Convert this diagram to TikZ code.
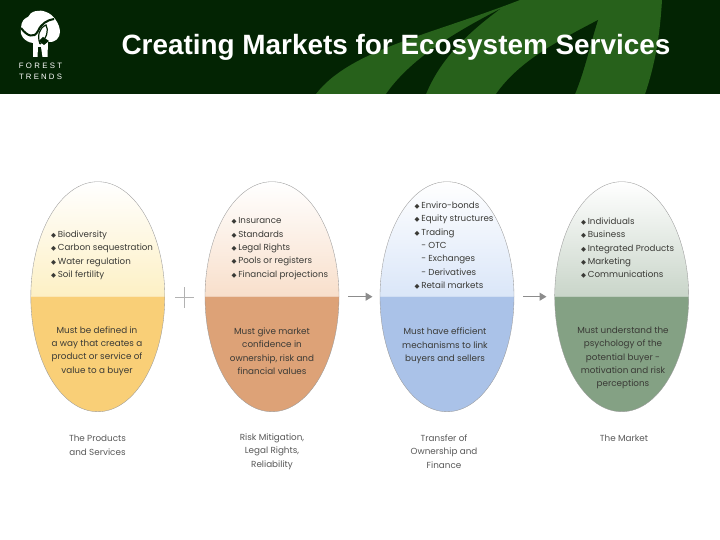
\documentclass[tikz,border=0pt]{standalone}
\usepackage{fontspec}
\setmainfont{Poppins}
\newfontfamily\titlefont{Liberation Sans}
\newfontfamily\symfont{DejaVu Sans}
\usetikzlibrary{shapes.geometric,arrows.meta}
\definecolor{bandbg}{HTML}{032403}
\definecolor{leafgreen}{HTML}{27611B}
\definecolor{inktext}{HTML}{3A3A36}
\definecolor{eaT}{HTML}{FDF0C4}\definecolor{eaB}{HTML}{F9CF77}
\definecolor{ebT}{HTML}{F8DFCB}\definecolor{ebB}{HTML}{DDA277}
\definecolor{ecT}{HTML}{DAE6F8}\definecolor{ecB}{HTML}{AAC2E8}
\definecolor{edT}{HTML}{C9D5C9}\definecolor{edB}{HTML}{84A184}
\newcommand{\BL}{\makebox[6.6pt][l]{\symfont\fontsize{6.5}{6.5}\selectfont ◆}}
\newcommand{\SB}{\makebox[6.6pt][l]{}}
\newcommand{\egg}[4]{% name, cx, top end colour, bottom colour
  \path[shade,top color=white,bottom color=#3] (#2-67,296.7) arc[start angle=180,end angle=0,x radius=67pt,y radius=115pt] -- cycle;
  \path[fill=#4] (#2-67,296.7) arc[start angle=180,end angle=360,x radius=67pt,y radius=115pt] -- cycle;
  \node[eggshape] (#1) at (#2,296.7) {};
}
\tikzset{
  eggshape/.style={ellipse,minimum width=134pt,minimum height=230pt,inner sep=0pt,draw=black!40,line width=.35pt},
  listtext/.style={anchor=north west,align=left,inner sep=0pt,text=inktext,font=\fontsize{8.7}{13.4}\selectfont},
  midtext/.style={align=center,inner sep=0pt,text=inktext,font=\fontsize{8.8}{13.4}\selectfont},
  captext/.style={align=center,inner sep=0pt,text=black!65,font=\fontsize{8.8}{13.6}\selectfont},
  joiner/.style={draw=black!45,line width=1.2pt,-{Triangle[length=7pt,width=8pt]}},
  plusline/.style={draw=black!30,line width=.9pt},
  logotext/.style={inner sep=0pt,text=white,font=\titlefont\fontsize{7.8}{7.8}\selectfont}
}
\begin{document}
\begin{tikzpicture}[x=1pt,y=-1pt]
\useasboundingbox (0,0) rectangle (720,540);
\fill[white] (0,0) rectangle (720,540);
% banner
\fill[bandbg] (0,0) rectangle (720,94);
\fill[leafgreen] (316,94) .. controls (350,50) and (430,35) .. (520,0) -- (662,0) .. controls (660,35) and (655,65) .. (645,94) -- cycle;
\fill[bandbg] (386,94) .. controls (410,60) and (450,35) .. (500,9) .. controls (465,35) and (440,60) .. (426,94) -- cycle;
\fill[bandbg] (496,94) .. controls (520,60) and (560,40) .. (598,20) .. controls (590,45) and (585,70) .. (575,94) -- cycle;
% logo
\fill[white] (33,43) .. controls (24,42) and (19,34) .. (21,28) .. controls (21,21) and (25,18) .. (28,17) .. controls (30,11) and (40,9) .. (46,12) .. controls (53,14) and (60,24) .. (60,32) .. controls (60,38) and (55,43) .. (48,42) -- (47.5,57) -- (42.5,57) -- (41,47) -- (38,47) -- (37.5,57) -- (33,57) -- cycle;
\draw[bandbg,line width=2pt] (21,28) .. controls (27,36) and (34,39) .. (38,31) .. controls (41,24) and (47,20) .. (54,19);
\draw[bandbg,line width=1.2pt] (40,44) .. controls (37,36) and (39,28) .. (46,25) .. controls (49,30) and (47,38) .. (40,44);
\fill[bandbg] (39,41) -- (43,37) -- (49,41) -- (44,45) -- cycle;
\node[logotext] (forest) at (40.5,66) {\addfontfeature{LetterSpace=30}FOREST};
\node[logotext] (trends) at (40.5,77) {\addfontfeature{LetterSpace=28}TRENDS};
\node[inner sep=0pt,text=white,font=\titlefont\bfseries\fontsize{27.9}{28}\selectfont] (title) at (396,47) {Creating Markets for Ecosystem Services};
% ellipses
\egg{e1}{97.8}{eaT}{eaB}
\egg{e2}{272}{ebT}{ebB}
\egg{e3}{447}{ecT}{ecB}
\egg{e4}{621.7}{edT}{edB}
% lists
\node[listtext] (l1) at (51,230.5) {\BL Biodiversity\\\BL Carbon sequestration\\\BL Water regulation\\\BL Soil fertility};
\node[listtext] (l2) at (231.5,217.5) {\BL Insurance\\\BL Standards\\\BL Legal Rights\\\BL Pools or registers\\\BL Financial projections};
\node[listtext] (l3) at (414.5,201.5) {\BL Enviro-bonds\\\BL Equity structures\\\BL Trading\\\SB - OTC\\\SB - Exchanges\\\SB - Derivatives\\\BL Retail markets};
\node[listtext] (l4) at (581,217.5) {\BL Individuals\\\BL Business\\\BL Integrated Products\\\BL Marketing\\\BL Communications};
% statements
\node[midtext] (m1) at (97,351) {Must be defined in\\a way that creates a\\product or service of\\value to a buyer};
\node[midtext] (m2) at (272,351) {Must give market\\confidence in\\ownership, risk and\\financial values};
\node[midtext] (m3) at (445,346) {Must have efficient\\mechanisms to link\\buyers and sellers};
\node[midtext] (m4) at (623,358) {Must understand the\\psychology of the\\potential buyer -\\motivation and risk\\perceptions};
% captions
\node[captext] (c1) at (97.5,445) {The Products\\and Services};
\node[captext] (c2) at (272,451.5) {Risk Mitigation,\\Legal Rights,\\Reliability};
\node[captext] (c3) at (444,451.5) {Transfer of\\Ownership and\\Finance};
\node[captext] (c4) at (624,438) {The Market};
% connectors
\draw[plusline] (175,297) -- (193.5,297);
\draw[plusline] (184.2,287) -- (184.2,308);
\draw[joiner,shorten <=9pt,shorten >=7.3pt] (e2.east) -- (e3.west);
\draw[joiner,shorten <=9pt,shorten >=8pt] (e3.east) -- (e4.west);
\end{tikzpicture}
\end{document}
